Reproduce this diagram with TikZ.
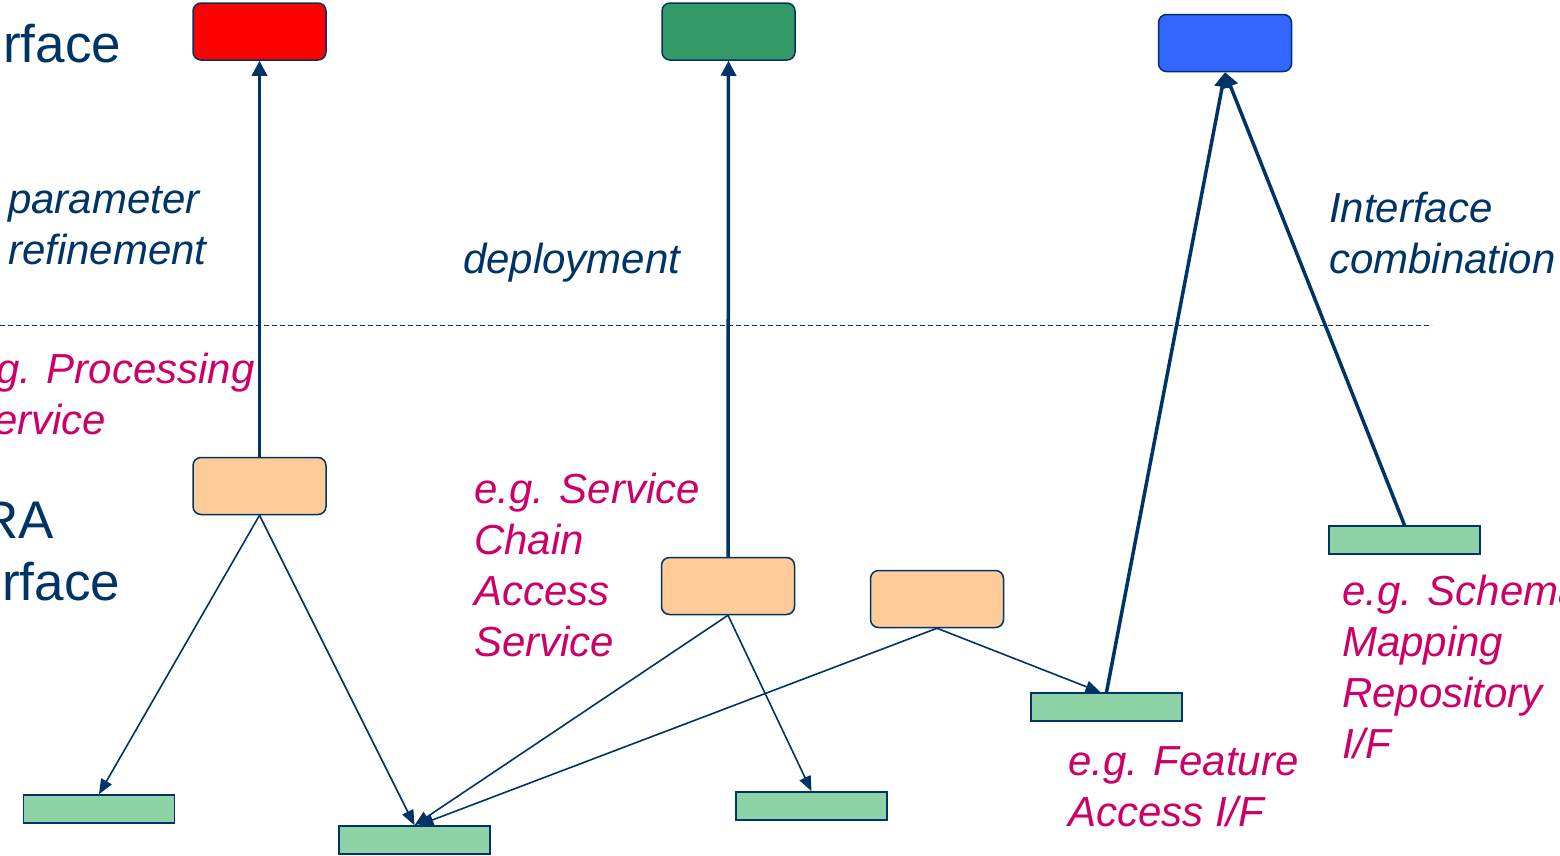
\documentclass[tikz,border=0pt]{standalone}
\usepackage{fontspec}
\setmainfont{Liberation Sans}
\usetikzlibrary{arrows.meta}
\definecolor{navy}{RGB}{0,51,102}
\definecolor{magent}{RGB}{204,0,102}
\definecolor{peach}{RGB}{255,204,153}
\definecolor{mint}{RGB}{142,211,166}
\definecolor{topgreen}{RGB}{51,153,102}
\definecolor{topblue}{RGB}{51,102,255}
\tikzset{
  ifbox/.style={draw=navy, line width=1.5pt, rounded corners=8pt,
    minimum width=133pt, minimum height=57pt, inner sep=0pt},
  bar/.style={draw=navy, line width=1.5pt, fill=mint,
    minimum width=151pt, minimum height=28pt, inner sep=0pt},
  thick arrow/.style={draw=navy, line width=3.5pt,
    -{Triangle[length=15pt,width=15pt]}},
  thin arrow/.style={draw=navy, line width=1.6pt,
    -{Triangle[length=15pt,width=12pt]}},
  big label/.style={text=navy, font=\fontsize{53}{63}\selectfont,
    inner sep=0pt, anchor=base west},
  note/.style={text=navy, font=\fontsize{42}{51}\selectfont\itshape,
    inner sep=0pt, anchor=base west},
  example/.style={text=magent, font=\fontsize{42}{51}\selectfont\itshape,
    inner sep=0pt, anchor=base west, align=left},
}
\begin{document}
\begin{tikzpicture}[x=1pt, y=-1pt]
\useasboundingbox (0,0) rectangle (1560,855);
\clip (0,0) rectangle (1560,855);

% level labels on the left
\node[big label] (topif) at (3,62) {rface};
\node[big label] (ra) at (-20,538) {RA};
\node[big label] (raif) at (2,600) {rface};

% boundary between the two levels
\coordinate (dl) at (0,325);
\coordinate (dr) at (1432,325);
\draw[navy, line width=1pt, dash pattern=on 5pt off 3pt] (dl) -- (dr);

% upper interfaces
\node[ifbox, fill=red] (red) at (259.5,31.5) {};
\node[ifbox, fill=topgreen] (grn) at (728.5,31.5) {};
\node[ifbox, fill=topblue] (blu) at (1225,43) {};

% services
\node[ifbox, fill=peach] (o1) at (259.5,486) {};
\node[ifbox, fill=peach] (o2) at (728,586) {};
\node[ifbox, fill=peach] (o3) at (937,599) {};

% lower interfaces
\node[bar] (b1) at (99,809) {};
\node[bar] (b2) at (414.5,840) {};
\node[bar] (b3) at (811.5,806) {};
\node[bar] (b4) at (1106.5,707) {};
\node[bar] (b5) at (1404.5,540) {};

% refinement / deployment / combination
\draw[thick arrow] (o1.north) -- (red.south);
\draw[thick arrow] (o2.north) -- (grn.south);
\draw[thick arrow] (b4.north) -- (blu.south);
\draw[thick arrow] (b5.north) -- (blu.south);

% service dependencies
\draw[thin arrow] (o1.south) -- (b1.north);
\draw[thin arrow] (o1.south) -- (b2.north);
\draw[thin arrow] (o2.south) -- (b2.north);
\draw[thin arrow] (o2.south) -- (b3.north);
\draw[thin arrow] (o3.south) -- ([xshift=4pt]b2.north);
\draw[thin arrow] (o3.south) -- ([xshift=-6pt]b4.north);

% annotations
\node[note] (par) at (8,213) {parameter};
\node[note] (ref) at (8,264) {refinement};
\node[note] (dep) at (463,273) {deployment};
\node[note] (icomb) at (1329,222) {Interface};
\node[note] (comb) at (1329,273) {combination};

\node[example] (proc) at (-4,383) {g. Processing};
\node[example] (proc2) at (-6,434) {ervice};
\node[example] (sca1) at (474,503) {e.g. Service};
\node[example] (sca2) at (474,554) {Chain};
\node[example] (sca3) at (474,605) {Access};
\node[example] (sca4) at (474,656) {Service};
\node[example] (sm1) at (1342,605) {e.g. Schema};
\node[example] (sm2) at (1342,656) {Mapping};
\node[example] (sm3) at (1342,707) {Repository};
\node[example] (sm4) at (1342,758) {I/F};
\node[example] (fa1) at (1068,775) {e.g. Feature};
\node[example] (fa2) at (1068,826) {Access I/F};
\end{tikzpicture}
\end{document}
